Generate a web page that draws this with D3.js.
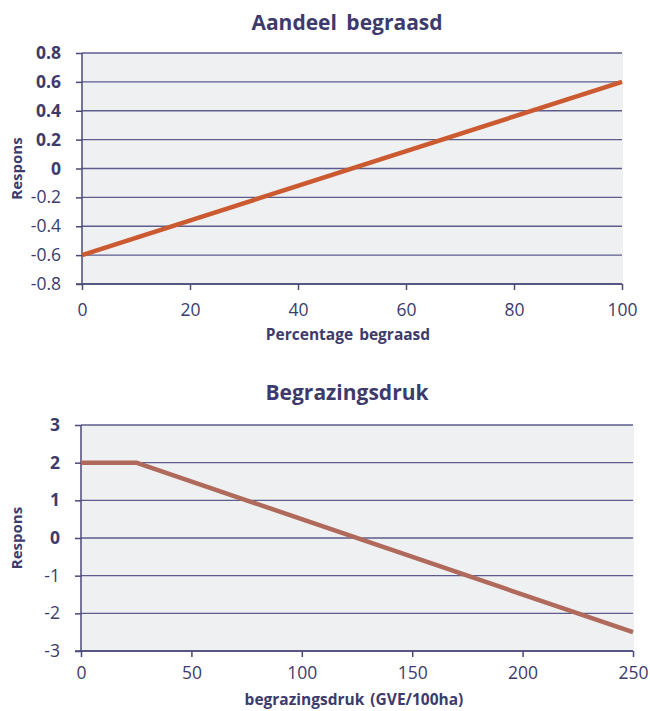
<!DOCTYPE html>
<html>
<head>
<meta charset="utf-8">
<script src="https://cdn.jsdelivr.net/npm/d3@7"></script>
<style>
  body { margin: 0; background: #fff; }
  text { font-family: "Open Sans", sans-serif; fill: #3d3b6b; }
</style>
</head>
<body>
<div id="chart"></div>
<script>
// chart 1: Aandeel begraasd
var aandeelX = [0, 100];
var aandeelY = [-0.6, 0.6];
var aandeelXTicks = [0, 20, 40, 60, 80, 100];
var aandeelYTicks = [-0.8, -0.6, -0.4, -0.2, 0, 0.2, 0.4, 0.6, 0.8];

// chart 2: Begrazingsdruk
var drukX = [0, 25, 250];
var drukY = [2, 2, -2.5];
var drukXTicks = [0, 50, 100, 150, 200, 250];
var drukYTicks = [-3, -2, -1, 0, 1, 2, 3];

var svg = d3.select("#chart").append("svg")
  .attr("width", 650)
  .attr("height", 711);

function drawPanel(opt) {
  var x = d3.scaleLinear().domain(opt.xDomain).range([opt.left, opt.right]);
  var y = d3.scaleLinear().domain(opt.yDomain).range([opt.bottom, opt.top]);
  var g = svg.append("g");

  // plot background
  g.append("rect")
    .attr("x", opt.left)
    .attr("y", opt.top)
    .attr("width", opt.right - opt.left + 1)
    .attr("height", opt.bottom - opt.top)
    .attr("fill", "#eff0f2");

  // horizontal grid lines
  g.selectAll(".grid")
    .data(opt.yTicks)
    .enter()
    .append("line")
    .attr("x1", opt.left)
    .attr("x2", opt.right)
    .attr("y1", d => y(d))
    .attr("y2", d => y(d))
    .attr("stroke", "#5d5c8c")
    .attr("stroke-width", 1.3);

  // y axis
  var yAxis = d3.axisLeft(y)
    .tickValues(opt.yTicks)
    .tickSize(6)
    .tickPadding(15)
    .tickFormat(opt.yFormat);
  var ya = g.append("g")
    .attr("transform", `translate(${opt.left},0)`)
    .call(yAxis);
  ya.select(".domain").remove();
  ya.append("line")
    .attr("x1", 0).attr("x2", 0)
    .attr("y1", opt.top).attr("y2", opt.bottom)
    .attr("stroke", "#4a4878").attr("stroke-width", 1.5);

  // x axis
  var xAxis = d3.axisBottom(x)
    .tickValues(opt.xTicks)
    .tickSize(6)
    .tickPadding(opt.xPad);
  var xa = g.append("g")
    .attr("transform", `translate(0,${opt.bottom})`)
    .call(xAxis);
  xa.select(".domain").remove();
  xa.append("line")
    .attr("x1", opt.left - 6).attr("x2", opt.right)
    .attr("y1", 0).attr("y2", 0)
    .attr("stroke", "#4a4878").attr("stroke-width", 1.5);

  g.selectAll(".tick line").attr("stroke", "#4a4878").attr("stroke-width", 1.5);
  g.selectAll(".tick text")
    .style("font-size", "17.5px")
    .style("fill", "#3d3b6b")
    .style("font-family", "'Open Sans', sans-serif");
  ya.selectAll(".tick text")
    .style("font-weight", d => d >= 0 ? "bold" : "normal");

  // response line
  var pts = opt.xs.map((v, i) => [v, opt.ys[i]]);
  var line = d3.line()
    .x(d => x(d[0]))
    .y(d => y(d[1]));
  g.append("path")
    .datum(pts)
    .attr("d", line)
    .attr("fill", "none")
    .attr("stroke", opt.color)
    .attr("stroke-width", 4.5)
    .attr("stroke-linejoin", "round");

  // title
  g.append("text")
    .attr("x", opt.titleX)
    .attr("y", opt.titleY)
    .attr("text-anchor", "middle")
    .style("font-size", "21px")
    .style("font-weight", "bold")
    .style("word-spacing", "4px")
    .text(opt.title);

  // x label
  g.append("text")
    .attr("x", opt.xLabelX)
    .attr("y", opt.xLabelY)
    .attr("text-anchor", "middle")
    .style("font-size", "15.5px")
    .style("font-weight", "bold")
    .style("word-spacing", "2px")
    .text(opt.xLabel);

  // y label
  g.append("text")
    .attr("transform", `translate(22,${(opt.top + opt.bottom) / 2}) rotate(-90)`)
    .attr("text-anchor", "middle")
    .style("font-size", "15px")
    .style("font-weight", "bold")
    .text("Respons");
}

drawPanel({
  xs: aandeelX, ys: aandeelY,
  xDomain: [0, 100], yDomain: [-0.8, 0.8],
  xTicks: aandeelXTicks, yTicks: aandeelYTicks,
  yFormat: d => d === 0 ? "0" : d3.format(".1f")(d).replace("−", "-"),
  left: 82, right: 622, top: 53, bottom: 284,
  xPad: 14,
  color: "#cc5a30",
  title: "Aandeel begraasd", titleX: 347, titleY: 30,
  xLabelX: 348, xLabelY: 340,
  xLabel: "Percentage begraasd"
});

drawPanel({
  xs: drukX, ys: drukY,
  xDomain: [0, 250], yDomain: [-3, 3],
  xTicks: drukXTicks, yTicks: drukYTicks,
  yFormat: d => String(d),
  left: 81, right: 633, top: 425, bottom: 651,
  xPad: 10,
  color: "#b06a5c",
  title: "Begrazingsdruk", titleX: 347, titleY: 400,
  xLabelX: 354, xLabelY: 705,
  xLabel: "begrazingsdruk (GVE/100ha)"
});
</script>
</body>
</html>
